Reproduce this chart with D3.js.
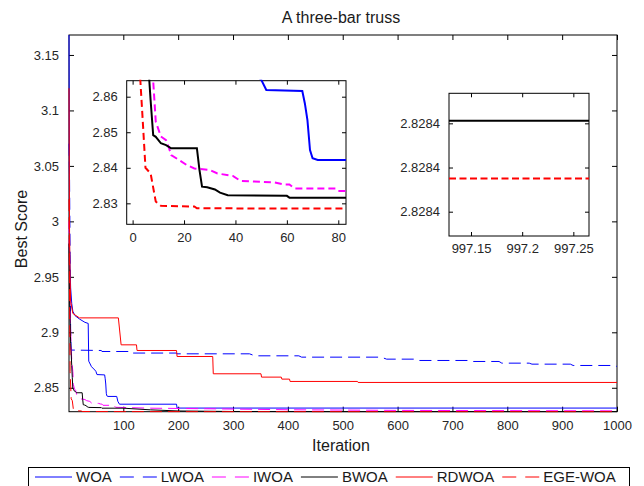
<!DOCTYPE html>
<html>
<head>
<meta charset="utf-8">
<script src="https://cdn.jsdelivr.net/npm/d3@7"></script>
<style>
  body { margin: 0; background: #fff; }
  svg { display: block; font-family: "Liberation Sans", Arial, sans-serif; }
</style>
</head>
<body>
<div id="box"></div>
<script>
// convergence curves, [iteration, best score]
var WOA = [[1,3.168],[2,2.975],[4,2.94],[6,2.926],[8,2.919],[12,2.915],[20,2.912],[30,2.909],[36,2.908],
  [37,2.874],[42,2.869],[48,2.866],[50,2.8648],[52,2.8619],[66,2.8616],[67,2.8581],[68,2.8534],[69,2.845],
  [70,2.8427],[72,2.8422],[88,2.8422],[90,2.8378],[93,2.8352],[197,2.8352],[198,2.8317],[1000,2.8317]];
var LWOA = [[1,3.07],[2,3.04],[3,2.97],[4,2.9],[5,2.884],[60,2.8836],[61,2.8827],[115,2.8827],[116,2.8813],
  [197,2.8813],[198,2.8806],[330,2.8806],[340,2.8788],[420,2.8788],[425,2.8776],[570,2.8776],[580,2.8758],
  [630,2.8758],[635,2.8746],[730,2.8746],[735,2.8737],[785,2.8737],[790,2.8722],[840,2.8722],[845,2.8713],
  [915,2.8713],[920,2.8701],[995,2.8701],[1000,2.8692]];
var IWOA = [[1,3.0],[2,2.95],[4,2.9],[6,2.875],[8,2.8645],[9,2.853],[11,2.8488],[13,2.8478],[14,2.8459],
  [15,2.8436],[18,2.8422],[21,2.8408],[24,2.8398],[30,2.8394],[33,2.8384],[39,2.8377],[42,2.8363],[55,2.8359],
  [59,2.8353],[61,2.8353],[63,2.8342],[79,2.8342],[80,2.8335],[84,2.8335],[86,2.8324],[150,2.8316],
  [250,2.8311],[400,2.8302],[600,2.8296],[1000,2.8292]];
var BWOA = [[1,2.98],[2,2.93],[4,2.89],[6,2.87],[7,2.859],[8,2.8492],[9,2.8487],[11,2.8469],[13,2.8464],
  [15,2.8455],[25,2.8455],[26,2.8394],[27,2.8347],[29,2.8345],[32,2.8339],[34,2.833],[37,2.8323],[60,2.8321],
  [61,2.8316],[100,2.8316],[150,2.8301],[200,2.8291],[300,2.8286],[500,2.828428],[600,2.8284271206],
  [1000,2.8284271206]];
var RDWOA = [[1,3.12],[2,2.99],[3,2.95],[4,2.928],[8,2.917],[20,2.913],[91,2.913],[96,2.8887],[124,2.8887],
  [125,2.8836],[197,2.8836],[198,2.8782],[263,2.8782],[264,2.8626],[351,2.8626],[352,2.8596],[388,2.8596],
  [389,2.8578],[403,2.8578],[404,2.8557],[527,2.8557],[528,2.8548],[1000,2.8548]];
var EGEWOA = [[1,3.02],[2,2.93],[3,2.8647],[4,2.8525],[5,2.84],[7,2.8384],[9,2.8305],[11,2.8293],[24,2.8291],
  [25,2.8286],[100,2.8285],[300,2.82843],[600,2.8284271075],[1000,2.8284271075]];

var names = ["WOA", "LWOA", "IWOA", "BWOA", "RDWOA", "EGE-WOA"];
var seriesData = [WOA, LWOA, IWOA, BWOA, RDWOA, EGEWOA];
var colors = ["#0000ff", "#0000ff", "#ff00ff", "#000000", "#ff0000", "#ff0000"];
var dashed = [false, true, true, false, false, true];

var mainXTicks = [100, 200, 300, 400, 500, 600, 700, 800, 900, 1000];
var mainYTicks = [2.85, 2.9, 2.95, 3, 3.05, 3.1, 3.15];
var in1XTicks = [0, 20, 40, 60, 80];
var in1YTicks = [2.83, 2.84, 2.85, 2.86];
var in2XTicks = [997.15, 997.2, 997.25];
var in2YTicks = [2.8284271, 2.82842711, 2.82842712];

var width = 644, height = 486;
var svg = d3.select("#box").append("svg")
  .attr("width", width)
  .attr("height", height);

var trim = function(d) { return String(+d.toFixed(2)); };

// keep only the part of a curve inside [x0, x1] so that zoomed views
// do not get paths running millions of pixels off screen
function cutToRange(data, x0, x1) {
  var out = [];
  for (var i = 0; i < data.length - 1; i++) {
    var a = data[i], b = data[i + 1];
    if (b[0] < x0 || a[0] > x1) continue;
    var at = function(x) { return [x, a[1] + (b[1] - a[1]) * (x - a[0]) / (b[0] - a[0])]; };
    var p = a[0] < x0 ? at(x0) : a;
    var q = b[0] > x1 ? at(x1) : b;
    if (!out.length) out.push(p);
    out.push(q);
  }
  return out;
}

// draws one boxed axes with inward ticks on all four sides
function drawAxes(id, box, xDom, yDom, xt, yt, xfmt, yfmt, tick, lw, dash) {
  var x = d3.scaleLinear().domain(xDom).range([box.l, box.r]);
  var y = d3.scaleLinear().domain(yDom).range([box.b, box.t]);
  var g = svg.append("g");

  g.append("rect")
    .attr("x", box.l).attr("y", box.t)
    .attr("width", box.r - box.l).attr("height", box.b - box.t)
    .attr("fill", "#fff").attr("stroke", "#000").attr("stroke-width", 1);

  svg.append("clipPath").attr("id", id)
    .append("rect")
    .attr("x", box.l - 1).attr("y", box.t - 1)
    .attr("width", box.r - box.l + 2).attr("height", box.b - box.t + 2);

  // axes through d3.axis, ticks pointing inward
  var bottom = d3.axisBottom(x).tickValues(xt).tickFormat(xfmt).tickSizeInner(-tick).tickSizeOuter(0).tickPadding(tick + 4);
  var top = d3.axisTop(x).tickValues(xt).tickFormat("").tickSizeInner(-tick).tickSizeOuter(0);
  var left = d3.axisLeft(y).tickValues(yt).tickFormat(yfmt).tickSizeInner(-tick).tickSizeOuter(0).tickPadding(tick + 5);
  var right = d3.axisRight(y).tickValues(yt).tickFormat("").tickSizeInner(-tick).tickSizeOuter(0);

  var axes = [
    g.append("g").attr("transform", "translate(0," + box.b + ")").call(bottom),
    g.append("g").attr("transform", "translate(0," + box.t + ")").call(top),
    g.append("g").attr("transform", "translate(" + box.l + ",0)").call(left),
    g.append("g").attr("transform", "translate(" + box.r + ",0)").call(right)
  ];
  axes.forEach(function(a) {
    a.select(".domain").remove();
    a.selectAll("line").attr("stroke", "#000");
    a.selectAll("text").attr("fill", "#262626").style("font-size", "13px");
  });

  var line = d3.line()
    .x(function(d) { return x(d[0]); })
    .y(function(d) { return y(d[1]); });

  g.append("g").attr("clip-path", "url(#" + id + ")")
    .selectAll("path")
    .data(seriesData)
    .enter().append("path")
    .attr("d", function(d) { return line(cutToRange(d, xDom[0], xDom[1])); })
    .attr("fill", "none")
    .attr("stroke", function(d, i) { return colors[i]; })
    .attr("stroke-width", lw)
    .attr("stroke-dasharray", function(d, i) { return dashed[i] ? dash : null; });
  return g;
}

// main axes
drawAxes("clipMain", {l: 69, r: 617, t: 35, b: 411.7}, [1, 1000], [2.82843, 3.168],
  mainXTicks, mainYTicks, d3.format("d"), trim, 5, 1, "12,6");

// zoomed-in view, first iterations
drawAxes("clipIn1", {l: 126.7, r: 346, t: 80.7, b: 224.3}, [-2.3, 83], [2.8241, 2.8645],
  in1XTicks, in1YTicks, d3.format("d"), trim, 4, 2, "7,4");

// zoomed-in view, last iterations
drawAxes("clipIn2", {l: 449, r: 589, t: 93.3, b: 236}, [997.1285, 997.2653], [2.8284270945, 2.8284271268],
  in2XTicks, in2YTicks, trim, d3.format(".4f"), 4, 2, "7,3.5");

// labels
svg.append("text")
  .attr("x", 341).attr("y", 23)
  .attr("text-anchor", "middle")
  .style("font-size", "16px").attr("fill", "#1a1a1a")
  .text("A three-bar truss");

svg.append("text")
  .attr("x", 341).attr("y", 451)
  .attr("text-anchor", "middle")
  .style("font-size", "16px").attr("fill", "#1a1a1a")
  .text("Iteration");

svg.append("text")
  .attr("transform", "translate(27,229) rotate(-90)")
  .attr("text-anchor", "middle")
  .style("font-size", "16px").attr("fill", "#1a1a1a")
  .text("Best Score");

// legend
var legend = svg.append("g");
legend.append("rect")
  .attr("x", 28.5).attr("y", 467.5)
  .attr("width", 601).attr("height", 40)
  .attr("fill", "#fff").attr("stroke", "#000");

var lx = 35;
names.forEach(function(name, i) {
  legend.append("line")
    .attr("x1", lx).attr("x2", lx + 37)
    .attr("y1", 477).attr("y2", 477)
    .attr("stroke", colors[i])
    .attr("stroke-width", 1)
    .attr("stroke-dasharray", dashed[i] ? "14,9" : null);
  var t = legend.append("text")
    .attr("x", lx + 41).attr("y", 482)
    .style("font-size", "15px").attr("fill", "#1a1a1a")
    .text(name);
  lx += 41 + t.node().getComputedTextLength() + 8;
});
</script>
</body>
</html>
